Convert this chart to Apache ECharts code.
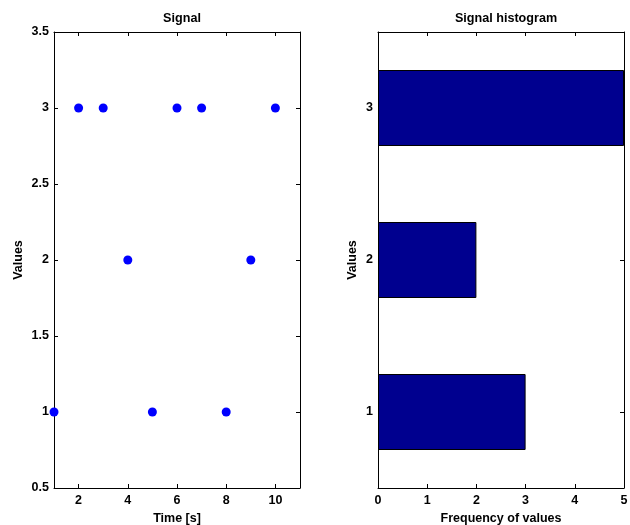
<!DOCTYPE html>
<html><head><meta charset="utf-8">
<script src="https://cdn.jsdelivr.net/npm/echarts@6/dist/echarts.min.js"></script>
<style>html,body{margin:0;padding:0;background:#fff}#c{width:630px;height:525px}</style>
</head><body><div id="c"></div>
<script>
const timeValues = [1,2,3,4,5,6,7,8,9,10];
const signalValues = [1,3,3,2,1,3,3,1,2,3];
const histCategories = ['1','2','3'];
const histCounts = [3,2,5];
const timeTicks = [2,4,6,8,10];

const FONT = 'Liberation Sans, Arial, sans-serif';
const lab = {color:'#000', fontFamily:FONT, fontWeight:'bold', fontSize:12.5};
const axLine = {show:true, onZero:false, lineStyle:{color:'#000', width:1}};
const tick = {show:true, inside:true, length:4, lineStyle:{color:'#000', width:1}};
const titleStyle = {fontFamily:FONT, fontWeight:'bold', fontSize:12.6, color:'#000'};

const option = {
  animation:false,
  title:[
    {text:'Signal', left:177, top:7, textAlign:'center', textStyle:titleStyle},
    {text:'Signal histogram', left:501, top:7, textAlign:'center', textStyle:titleStyle}
  ],
  grid:[{left:54, top:32, width:246, height:456, containLabel:false, outerBoundsMode:'none'},
        {left:378, top:32, width:246, height:456, containLabel:false, outerBoundsMode:'none'}],
  xAxis:[
    {type:'value', gridIndex:0, min:1, max:11, position:'bottom', splitLine:{show:false}, axisLine:axLine,
     axisTick:Object.assign({customValues:timeTicks}, tick), axisLabel:Object.assign({customValues:timeTicks, margin:6}, lab),
     name:'Time [s]', nameLocation:'middle', nameGap:18, nameTextStyle:lab},
    {type:'value', gridIndex:0, min:1, max:11, position:'top', splitLine:{show:false}, axisLine:axLine,
     axisTick:Object.assign({customValues:timeTicks}, tick), axisLabel:{show:false}},
    {type:'value', gridIndex:1, min:0, max:5, interval:1, position:'bottom', splitLine:{show:false}, axisLine:axLine,
     axisTick:tick, axisLabel:Object.assign({margin:6}, lab),
     name:'Frequency of values', nameLocation:'middle', nameGap:18, nameTextStyle:lab},
    {type:'value', gridIndex:1, min:0, max:5, interval:1, position:'top', splitLine:{show:false}, axisLine:axLine,
     axisTick:tick, axisLabel:{show:false}}
  ],
  yAxis:[
    {type:'value', gridIndex:0, min:0.5, max:3.5, interval:0.5, position:'left', splitLine:{show:false}, axisLine:axLine,
     axisTick:tick, axisLabel:Object.assign({margin:5}, lab),
     name:'Values', nameLocation:'middle', nameGap:29, nameTextStyle:lab},
    {type:'value', gridIndex:0, min:0.5, max:3.5, interval:0.5, position:'right', splitLine:{show:false}, axisLine:axLine,
     axisTick:tick, axisLabel:{show:false}},
    {type:'category', gridIndex:1, data:histCategories, position:'left', axisLine:axLine,
     axisTick:Object.assign({alignWithLabel:true}, tick), axisLabel:Object.assign({margin:5}, lab),
     name:'Values', nameLocation:'middle', nameGap:19, nameTextStyle:lab},
    {type:'category', gridIndex:1, data:histCategories, position:'right', axisLine:axLine,
     axisTick:Object.assign({alignWithLabel:true}, tick), axisLabel:{show:false}}
  ],
  series:[
    {type:'scatter', xAxisIndex:0, yAxisIndex:0, data:timeValues.map((t,i)=>[t, signalValues[i]]),
     symbol:'circle', symbolSize:9, itemStyle:{color:'#0000FF', opacity:1}, clip:false},
    {type:'bar', xAxisIndex:2, yAxisIndex:2, data:histCounts, barWidth:'50%',
     itemStyle:{color:'#00008F', borderColor:'#000', borderWidth:1}}
  ]
};
echarts.init(document.getElementById('c')).setOption(option);
</script></body></html>
